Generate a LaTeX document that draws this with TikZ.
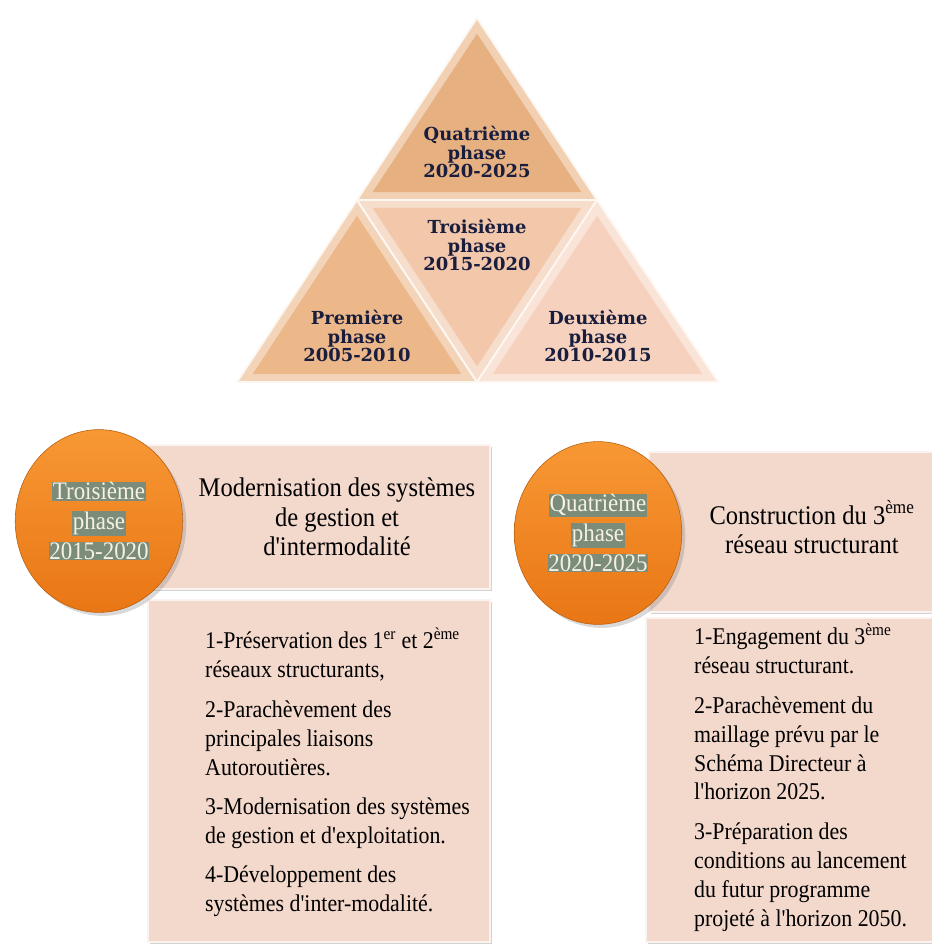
\documentclass[tikz,border=0pt]{standalone}
\usepackage{fontspec}
\setmainfont{Liberation Serif}
\newfontfamily\narrowfont{Liberation Serif}[FakeStretch=0.91]
\newfontfamily\trifont{DejaVu Serif}
\usetikzlibrary{shapes.geometric, shadows, calc}

\definecolor{triTop}{RGB}{231,176,128}
\definecolor{triLeft}{RGB}{236,184,138}
\definecolor{triMid}{RGB}{242,199,170}
\definecolor{triRight}{RGB}{246,210,190}
\definecolor{navyText}{RGB}{26,30,62}
\definecolor{boxPeach}{RGB}{243,216,204}
\definecolor{discLight}{RGB}{247,152,52}
\definecolor{discDark}{RGB}{233,118,20}
\definecolor{glowGrey}{RGB}{124,140,122}
\definecolor{discText}{RGB}{246,241,226}

\newcommand{\glowline}[1]{{\setlength{\fboxsep}{0.6pt}\colorbox{glowGrey}{#1}}}

\begin{document}
\begin{tikzpicture}[x=0.03cm, y=-0.03cm,
    tri/.style={draw=white!85!triMid, line width=1.6pt, line join=round},
    trilabel/.style={font=\trifont\bfseries\fontsize{15.3pt}{16pt}\selectfont, text=navyText, align=center, inner sep=0pt},
    headbox/.style={fill=boxPeach, draw=white!70!boxPeach, line width=1.2pt, drop shadow={shadow xshift=2pt, shadow yshift=-2pt, opacity=0.35}},
    headtext/.style={font=\narrowfont\fontsize{23pt}{25pt}\selectfont, align=center, inner sep=0pt},
    itemtext/.style={align=left, inner sep=0pt, anchor=north west, font=\narrowfont\fontsize{20.5pt}{24.7pt}\selectfont},
    disc/.style={ellipse, minimum width=143pt, minimum height=156pt, top color=discLight, bottom color=discDark, draw=discDark!80!black, line width=0.5pt, drop shadow={shadow xshift=3pt, shadow yshift=-3pt, opacity=0.3}, align=center, text=discText, font=\narrowfont\fontsize{21.5pt}{25.5pt}\selectfont}
]
\useasboundingbox (0,0) rectangle (932,947);

% pyramid
\coordinate (apex) at (477,18);
\coordinate (lmid) at (357,200);
\coordinate (rmid) at (597,200);
\coordinate (bl) at (237,382);
\coordinate (bm) at (477,382);
\coordinate (br) at (718,382);

\foreach \a/\b/\c/\col in {apex/rmid/lmid/triTop, lmid/bm/bl/triLeft, lmid/rmid/bm/triMid, rmid/br/bm/triRight}{
  \draw[tri, fill=\col!60!white] (\a) -- (\b) -- (\c) -- cycle;
  \coordinate (m) at ($0.3333*(\a)+0.3333*(\b)+0.3334*(\c)$);
  \fill[\col] ($(m)!0.87!(\a)$) -- ($(m)!0.87!(\b)$) -- ($(m)!0.87!(\c)$) -- cycle;
}

\node[trilabel] (ph4) at (477,152) {Quatrième\\phase\\2020-2025};
\node[trilabel] (ph3) at (477,245) {Troisième\\phase\\2015-2020};
\node[trilabel] (ph1) at (357,336) {Première\\phase\\2005-2010};
\node[trilabel] (ph2) at (598,336) {Deuxième\\phase\\2010-2015};

% third phase
\draw[headbox] (148,445) rectangle (490,589);
\draw[headbox] (148,600) rectangle (490,942);
\node[headtext] (head3) at (337,517) {Modernisation des systèmes\\de gestion et\\d'intermodalité};
\node[itemtext] (list3) at (205,628) {%
1-Préservation des 1\textsuperscript{er} et 2\textsuperscript{ème}\\
réseaux structurants,\\[9pt]
2-Parachèvement des\\
principales liaisons\\
Autoroutières.\\[9pt]
3-Modernisation des systèmes\\
de gestion et d'exploitation.\\[9pt]
4-Développement des\\
systèmes d'inter-modalité.};
\node[disc] (disc3) at (99,521) {\glowline{Troisième}\\\glowline{phase}\\\glowline{2015-2020}};

% fourth phase
\draw[headbox] (649,452) rectangle (940,612);
\draw[headbox] (646,618) rectangle (940,942);
\node[headtext] (head4) at (812,527) {Construction du 3\textsuperscript{ème}\\réseau structurant};
\node[itemtext] (list4) at (694,624) {%
1-Engagement du 3\textsuperscript{ème}\\
réseau structurant.\\[9pt]
2-Parachèvement du\\
maillage prévu par le\\
Schéma Directeur à\\
l'horizon 2025.\\[9pt]
3-Préparation des\\
conditions au lancement\\
du futur programme\\
projeté à l'horizon 2050.};
\node[disc] (disc4) at (598,533) {\glowline{Quatrième}\\\glowline{phase}\\\glowline{2020-2025}};

\end{tikzpicture}
\end{document}
